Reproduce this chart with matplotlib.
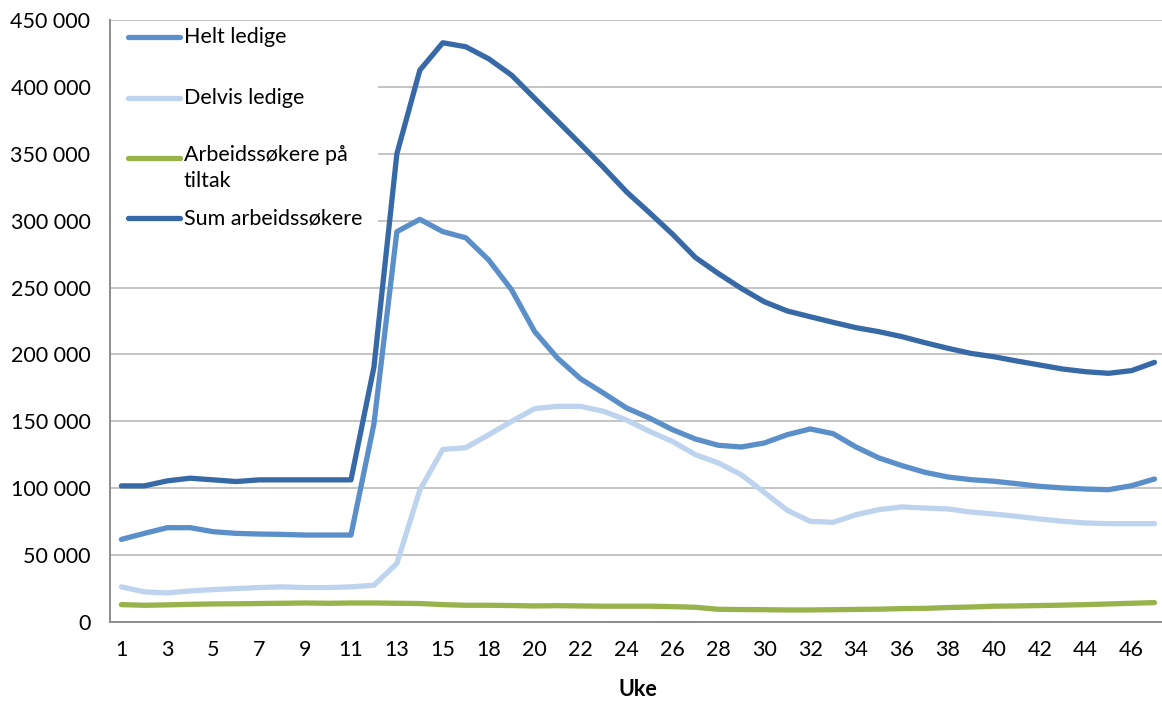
import matplotlib
matplotlib.use("Agg")
import matplotlib.pyplot as plt
from matplotlib.lines import Line2D
from matplotlib.patches import Rectangle
from matplotlib.ticker import FuncFormatter

plt.rcParams['font.family'] = ['Lato', 'DejaVu Sans']

weeks = [str(w) for w in list(range(1, 16)) + [17] + list(range(18, 48))]

helt_ledige = [61750, 66250, 70500, 70500, 67500, 66250, 65750, 65500, 65000, 65000,
               65000, 148000, 291800, 301000, 291800, 287200, 270600, 248200, 217100, 197200,
               181800, 171100, 160000, 152500, 143800, 136800, 132100, 130800, 133800, 140000,
               144300, 140800, 130800, 122600, 116900, 111900, 108400, 106400, 105200, 103400,
               101400, 100200, 99400, 98900, 101900, 106900]

delvis_ledige = [26250, 22500, 21750, 23250, 24250, 25000, 25750, 26250, 25750, 25750,
                 26250, 27500, 43750, 98750, 129000, 130300, 140000, 150000, 159500, 161200,
                 161200, 157500, 151000, 142500, 135000, 125100, 118900, 110100, 96900, 83500,
                 75300, 74500, 80200, 84000, 86000, 85200, 84500, 82200, 80700, 79000,
                 77000, 75300, 74000, 73500, 73500, 73500]

tiltak = [13000, 12500, 12800, 13200, 13500, 13600, 13800, 14000, 14200, 14000,
          14200, 14200, 14000, 13800, 13000, 12500, 12500, 12300, 12000, 12200,
          12000, 11800, 11800, 11800, 11500, 11000, 9500, 9300, 9200, 9000,
          9000, 9200, 9400, 9600, 10000, 10200, 10800, 11200, 11800, 12000,
          12300, 12600, 13000, 13500, 14000, 14500]

sum_arbeidssokere = [101750, 101750, 105500, 107500, 106250, 105000, 106250, 106250, 106250, 106250,
                     106250, 190500, 350000, 412500, 433000, 430000, 421000, 408700, 391500, 374400,
                     357200, 339800, 321600, 306000, 290000, 272500, 260500, 249400, 239400, 232500,
                     228200, 224000, 220000, 217000, 213300, 208800, 204600, 200800, 198300, 195100,
                     192100, 189100, 187100, 185900, 187900, 194100]

series_labels = ['Helt ledige', 'Delvis ledige', 'Arbeidssøkere på\ntiltak', 'Sum arbeidssøkere']
colors = ['#5B8FC9', '#BDD3EE', '#98B24C', '#3769A7']

FS = 15.5

W, H = 1162, 702
fig = plt.figure(figsize=(W / 100, H / 100), dpi=100)

x0, x1 = 109.9, 1166.0
y0, y1 = 622.0, 20.0
ax = fig.add_axes([x0 / W, 1 - y0 / H, (x1 - x0) / W, (y0 - y1) / H])

xs = list(range(len(weeks)))
data = [helt_ledige, delvis_ledige, tiltak, sum_arbeidssokere]
for vals, c in zip(data, colors):
    ax.plot(xs, vals, color=c, lw=3.8, solid_capstyle='round', solid_joinstyle='round', zorder=3)

ax.set_xlim(-0.5, len(weeks) - 0.5)
ax.set_ylim(0, 450000)
ax.set_yticks(range(0, 450001, 50000))
ax.yaxis.set_major_formatter(FuncFormatter(lambda v, p: f"{int(v):,}".replace(",", " ")))
ax.set_xticks(xs)
ax.set_xticklabels([w if i % 2 == 0 else '' for i, w in enumerate(weeks)])
ax.tick_params(axis='both', length=0, labelsize=FS, colors='#000000')
ax.tick_params(axis='y', pad=14)
ax.tick_params(axis='x', pad=13)

ax.grid(axis='y', color='#BFBFBF', lw=1.3, zorder=0)
ax.set_axisbelow(True)
for s in ['top', 'right']:
    ax.spines[s].set_visible(False)
for s in ['left', 'bottom']:
    ax.spines[s].set_color('#8C8C8C')
    ax.spines[s].set_linewidth(1.4)

ax.set_xlabel('Uke', fontsize=FS, fontweight='bold', labelpad=14)

# legend (manual, Excel-style)
def fx(px):
    return px / W

def fy(py):
    return 1 - py / H

fig.patches.append(Rectangle((fx(111), fy(262)), fx(378) - fx(111), fy(21) - fy(262),
                             transform=fig.transFigure, facecolor='white', edgecolor='none', zorder=2))
ax.set_zorder(1)
leg_y = [37, 98, 158, 218]
for lab, c, yy in zip(series_labels, colors, leg_y):
    fig.lines.append(Line2D([fx(128), fx(180)], [fy(yy), fy(yy)], transform=fig.transFigure,
                            color=c, lw=3.8, solid_capstyle='round', zorder=5))
    if '\n' in lab:
        fig.text(fx(184), fy(yy - 13), lab, fontsize=FS, va='top', ha='left', zorder=5,
                 linespacing=1.4)
    else:
        fig.text(fx(184), fy(yy), lab, fontsize=FS, va='center', ha='left', zorder=5)

fig.savefig('out.png', dpi=100)
